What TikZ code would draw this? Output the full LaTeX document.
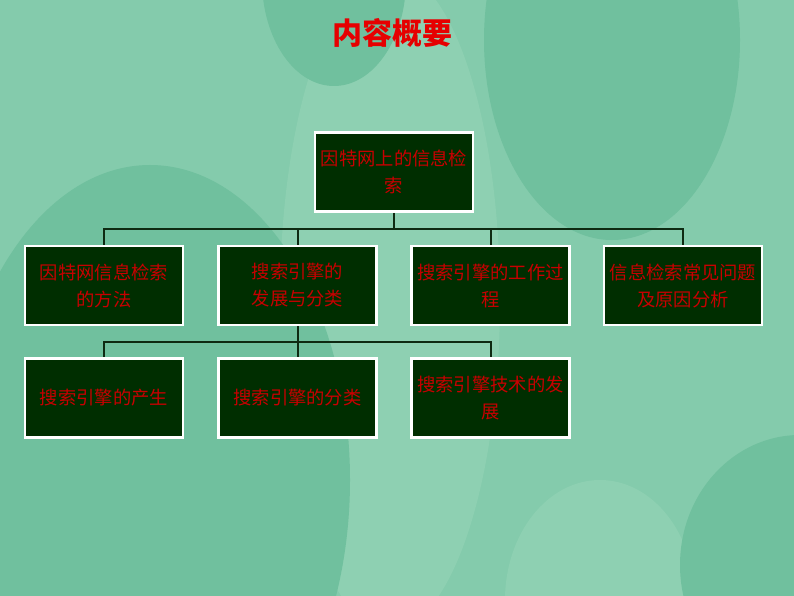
\documentclass[tikz,border=0pt]{standalone}
\usepackage{fontspec}
\newfontfamily\cjk{Noto Sans CJK SC}
\usetikzlibrary{positioning}
\definecolor{slidebg}{HTML}{84CBAC}
\definecolor{slidedark}{HTML}{70C09E}
\definecolor{slidelight}{HTML}{8ED0B2}
\definecolor{boxgreen}{HTML}{002E00}
\definecolor{textred}{HTML}{C80000}
\definecolor{titlered}{HTML}{E60000}
\definecolor{linegreen}{HTML}{0E2A12}

\begin{document}
\begin{tikzpicture}[x=1pt, y=-1pt,
        box/.style={draw=white, line width=2.5pt, fill=boxgreen, text=textred,
            minimum width=158pt, minimum height=79pt, align=center, inner sep=1pt,
            font=\cjk\fontsize{18.3}{27}\selectfont},
        link/.style={draw=linegreen, line width=2pt}
    ]
      \useasboundingbox (0,0) rectangle (794,596);

      % Background
      \fill[slidebg] (0,0) rectangle (794,596);
      \begin{scope}
        \clip (0,0) rectangle (794,596);
        \fill[slidelight] (390,300) ellipse (110 and 330);
        \fill[slidedark] (612,40) ellipse (128 and 200);
        \fill[slidedark] (334,-20) ellipse (72 and 106);
        \fill[slidedark] (150,480) ellipse (200 and 315);
        \fill[slidelight] (600,600) ellipse (95 and 120);
        \fill[slidedark] (800,565) ellipse (120 and 130);
      \end{scope}

      % Title
      \node[text=titlered, font=\cjk\bfseries\fontsize{30}{30}\selectfont] (title) at (392,33) {内容概要};

      % Root
      \node[box] (root) at (394,172) {因特网上的信息检\\索};

      % First level
      \node[box] (method) at (104,285.5) {因特网信息检索\\的方法};
      \node[box] (develop) at (297.5,285.5) {搜索引擎的\\发展与分类};
      \node[box] (work) at (490.5,285.5) {搜索引擎的工作过\\程};
      \node[box] (problem) at (683,285.5) {信息检索常见问题\\及原因分析};

      % Second level
      \node[box] (birth) at (104,398) {搜索引擎的产生};
      \node[box] (kinds) at (297.5,398) {搜索引擎的分类};
      \node[box] (tech) at (490.5,398) {搜索引擎技术的发\\展};

      % Connectors
      \coordinate (bus1) at (394,229);
      \coordinate (bus2) at (297.5,342);
      \draw[link] (root.south) -- (bus1);
      \foreach \n in {method, develop, work, problem}
        \draw[link] (bus1) -| (\n.north);
      \draw[link] (develop.south) -- (bus2);
      \foreach \n in {birth, kinds, tech}
        \draw[link] (bus2) -| (\n.north);
\end{tikzpicture}
\end{document}
